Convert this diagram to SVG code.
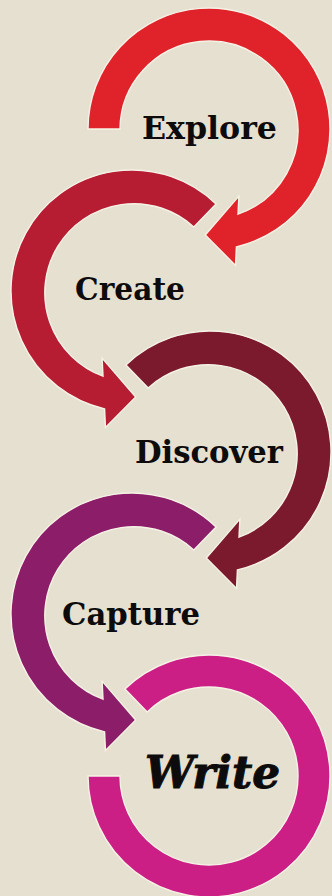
<svg xmlns="http://www.w3.org/2000/svg" width="332" height="896" viewBox="0 0 332 896">
  <style>
    .ring { stroke: #f6f2e6; stroke-width: 1.4; stroke-linejoin: miter; }
    .lbl { font-family: "DejaVu Serif", "Liberation Serif", serif; font-weight: bold; fill: #0d0b0b; font-size: 32px; }
    .big { font-size: 44px; font-style: italic; stroke: #0d0b0b; stroke-width: 1; }
  </style>
  <rect x="0" y="0" width="332" height="896" fill="#e5e0cf"/>
  <g id="explore">
    <path class="ring" fill="#e0222a" d="M88,129 A121,121 0 1 1 236.42,246.85 L235.52,265.45 L205.30,234.94 L238.90,196.15 L238.00,214.20 A89,89 0 1 0 120,129 Z"/>
    <text class="lbl" x="142" y="139" textLength="135" lengthAdjust="spacingAndGlyphs">Explore</text>
  </g>
  <g id="create">
    <path class="ring" fill="#b61c32" d="M216.05,203.96 A121,121 0 1 0 104.58,408.85 L105.48,427.45 L135.70,396.94 L102.10,358.15 L103.00,376.20 A89,89 0 1 1 193.82,226.98 Z"/>
    <text class="lbl" x="75" y="300" textLength="110" lengthAdjust="spacingAndGlyphs">Create</text>
  </g>
  <g id="discover">
    <path class="ring" fill="#7c1a2d" d="M125.95,364.96 A121,121 0 1 1 237.42,569.85 L236.52,588.45 L206.30,557.94 L239.90,519.15 L239.00,537.20 A89,89 0 1 0 148.18,387.98 Z"/>
    <text class="lbl" x="135" y="463" textLength="148" lengthAdjust="spacingAndGlyphs">Discover</text>
  </g>
  <g id="capture">
    <path class="ring" fill="#8c1d69" d="M216.05,526.96 A121,121 0 1 0 104.58,731.85 L105.48,750.45 L135.70,719.94 L102.10,681.15 L103.00,699.20 A89,89 0 1 1 193.82,549.98 Z"/>
    <text class="lbl" x="62" y="625" textLength="138" lengthAdjust="spacingAndGlyphs">Capture</text>
  </g>
  <g id="write">
    <path class="ring" fill="#cb1f85" d="M124.95,688.96 A121,121 0 1 1 88,776 L120,776 A89,89 0 1 0 147.18,711.98 Z"/>
    <text class="lbl big" x="145" y="788" textLength="135" lengthAdjust="spacingAndGlyphs">Write</text>
  </g>
  <g id="connectors"/>
</svg>
